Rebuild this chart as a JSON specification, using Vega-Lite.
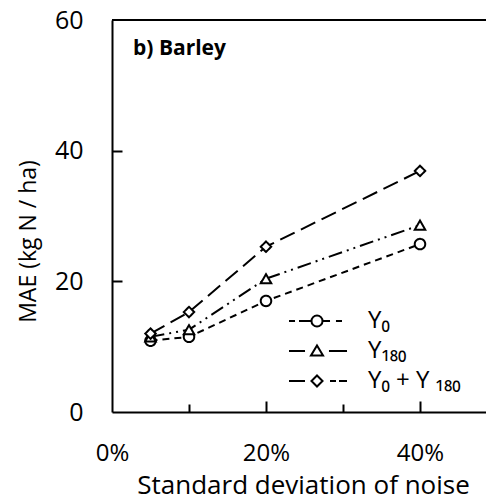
{
  "$schema": "https://vega.github.io/schema/vega-lite/v6.json",
  "width": 374,
  "height": 392,
  "autosize": "none",
  "padding": {"left": 112, "top": 20, "right": 0, "bottom": 91},
  "background": "white",
  "config": {
    "view": {"stroke": null},
    "font": "Open Sans",
    "axis": {
      "domainColor": "black",
      "domainWidth": 2,
      "tickColor": "black",
      "tickWidth": 2,
      "labelColor": "black",
      "titleColor": "black",
      "titleFontWeight": "normal",
      "grid": false,
      "labelFont": "Open Sans",
      "titleFont": "Open Sans"
    }
  },
  "datasets": {
    "mae": [
      {"noise": 0.05, "mae": 10.9, "series": "Y₀"},
      {"noise": 0.10, "mae": 11.5, "series": "Y₀"},
      {"noise": 0.20, "mae": 17.0, "series": "Y₀"},
      {"noise": 0.40, "mae": 25.7, "series": "Y₀"},
      {"noise": 0.05, "mae": 11.5, "series": "Y₁₈₀"},
      {"noise": 0.10, "mae": 12.6, "series": "Y₁₈₀"},
      {"noise": 0.20, "mae": 20.4, "series": "Y₁₈₀"},
      {"noise": 0.40, "mae": 28.6, "series": "Y₁₈₀"},
      {"noise": 0.05, "mae": 12.0, "series": "Y₀ + Y ₁₈₀"},
      {"noise": 0.10, "mae": 15.3, "series": "Y₀ + Y ₁₈₀"},
      {"noise": 0.20, "mae": 25.3, "series": "Y₀ + Y ₁₈₀"},
      {"noise": 0.40, "mae": 36.9, "series": "Y₀ + Y ₁₈₀"}
    ]
  },
  "data": {"name": "mae"},
  "resolve": {"axis": {"x": "independent", "y": "independent"}},
  "layer": [
    {
      "transform": [{"filter": "datum.series == 'Y₀'"}],
      "mark": {"type": "line", "color": "black", "strokeWidth": 2, "strokeDash": [7, 5],
               "point": {"shape": "circle", "filled": true, "fill": "white", "stroke": "black", "strokeWidth": 2, "size": 110, "opacity": 1, "strokeDash": [1, 0]}},
      "encoding": {
        "x": {
          "field": "noise",
          "type": "quantitative",
          "scale": {"domain": [0, 0.48571], "nice": false},
          "axis": {
            "orient": "bottom",
            "values": [0, 0.2, 0.4],
            "format": ".0%",
            "ticks": false,
            "tickSize": 0,
            "labelFontSize": 24,
            "labelPadding": 29,
            "labelFlush": false,
            "title": "Standard deviation of noise",
            "titleFontSize": 26,
            "titleX": 191,
            "titleY": 81,
            "titleBaseline": "alphabetic",
            "titleAnchor": "middle",
            "titleAlign": "center"
          }
        },
        "y": {
          "field": "mae",
          "type": "quantitative",
          "scale": {"domain": [0, 60], "nice": false},
          "axis": {
            "orient": "left",
            "values": [0, 20, 40, 60],
            "ticks": false,
            "tickSize": 0,
            "labelFontSize": 25,
            "labelPadding": 29,
            "labelFlush": false,
            "title": "MAE (kg N / ha)",
            "titleFontSize": 23,
            "titleX": -77,
            "titleY": 221,
            "titleAngle": -90,
            "titleBaseline": "alphabetic",
            "titleAlign": "center"
          }
        }
      }
    },
    {
      "transform": [{"filter": "datum.series == 'Y₁₈₀'"}],
      "mark": {"type": "line", "color": "black", "strokeWidth": 2, "strokeDash": [14, 5, 2, 5, 2, 5],
               "point": {"shape": "triangle-up", "filled": true, "fill": "white", "stroke": "black", "strokeWidth": 2, "size": 110, "opacity": 1, "strokeDash": [1, 0]}},
      "encoding": {
        "x": {
          "field": "noise",
          "type": "quantitative",
          "axis": {"orient": "bottom", "values": [0.2, 0.4], "labels": false, "domain": false, "title": null, "ticks": true, "tickSize": 11, "offset": -11}
        },
        "y": {
          "field": "mae",
          "type": "quantitative",
          "axis": {"orient": "left", "values": [20, 40], "labels": false, "domain": false, "title": null, "ticks": true, "tickSize": 10, "offset": -10}
        }
      }
    },
    {
      "transform": [{"filter": "datum.series == 'Y₀ + Y ₁₈₀'"}],
      "mark": {"type": "line", "color": "black", "strokeWidth": 2, "strokeDash": [16, 7],
               "point": {"shape": "diamond", "filled": true, "fill": "white", "stroke": "black", "strokeWidth": 2, "size": 110, "opacity": 1, "strokeDash": [1, 0]}},
      "encoding": {
        "x": {
          "field": "noise",
          "type": "quantitative",
          "axis": {"orient": "bottom", "values": [0.1, 0.3], "labels": false, "domain": false, "title": null, "ticks": true, "tickSize": 8, "offset": -8}
        },
        "y": {"field": "mae", "type": "quantitative", "axis": null}
      }
    },
    {
      "transform": [{"filter": "false"}],
      "mark": {"type": "point", "filled": false, "color": "black", "strokeWidth": 2, "opacity": 1},
      "encoding": {
        "shape": {
          "field": "series",
          "type": "nominal",
          "scale": {
            "domain": ["Y₀", "Y₁₈₀", "Y₀ + Y ₁₈₀"],
            "range": [
              "M-4,0L-3.14,0M-2.57,0L-0.79,0M0.79,0L1.86,0M2.71,0L3.57,0M0.79,0A0.79,0.79 0 1,1 -0.79,0A0.79,0.79 0 1,1 0.79,0Z",
              "M-4,0L-1.71,0M1.71,0L4.29,0M0,-0.79L0.86,0.64L-0.86,0.64Z",
              "M-4,0L-1.71,0M1.86,0L2.71,0M3.14,0L4.29,0M0,-0.79L0.79,0L0,0.79L-0.79,0Z"
            ]
          },
          "legend": {
            "title": null,
            "orient": "none",
            "legendX": 193,
            "legendY": 289,
            "padding": 0,
            "rowPadding": 6,
            "labelFontSize": 24,
            "labelFont": "Open Sans",
            "labelColor": "black",
            "labelOffset": 39,
            "symbolSize": 196,
            "symbolStrokeWidth": 2,
            "symbolStrokeColor": "black",
            "symbolOpacity": 1
          }
        }
      }
    },
    {
      "data": {"values": [{"top": 60}]},
      "mark": {"type": "rule", "color": "black", "strokeWidth": 2},
      "encoding": {"y": {"field": "top", "type": "quantitative", "axis": null}}
    },
    {
      "data": {"values": [{"label": "b) Barley", "lx": 0.0273, "ly": 54.6}]},
      "mark": {"type": "text", "font": "Open Sans", "fontWeight": "bold", "fontSize": 21, "align": "left", "baseline": "alphabetic", "color": "black"},
      "encoding": {
        "x": {"field": "lx", "type": "quantitative", "axis": null},
        "y": {"field": "ly", "type": "quantitative", "axis": null},
        "text": {"field": "label"}
      }
    }
  ]
}
